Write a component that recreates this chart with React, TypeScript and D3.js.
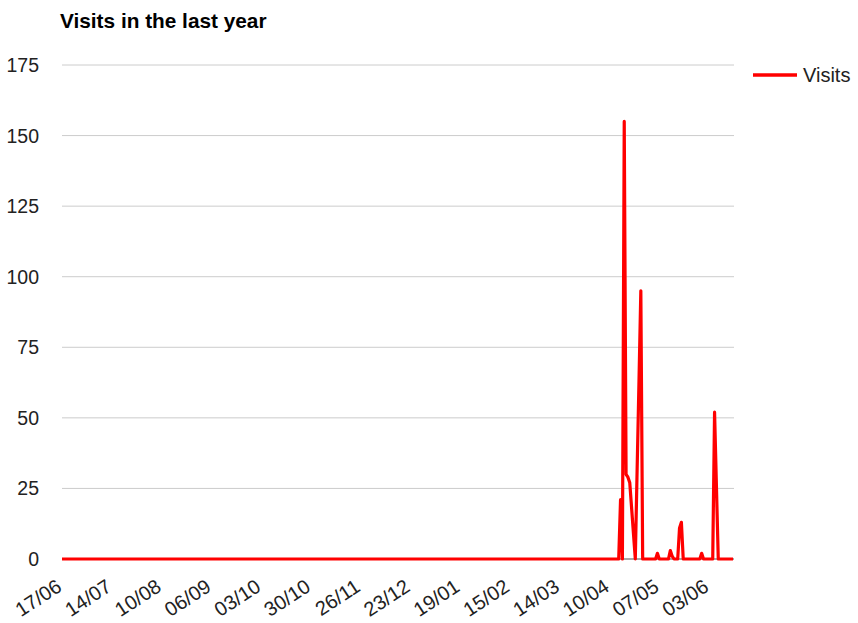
import React from "react";
import * as d3 from "d3";

// Daily visits over one year; only the days with traffic are listed, every other day had 0.
const firstDay = new Date(2012, 5, 17);
const dayCount = 365;

const activeDays = [
  "2013-04-16", "2013-04-18", "2013-04-19", "2013-04-20", "2013-04-21", "2013-04-22",
  "2013-04-23", "2013-04-25", "2013-04-26", "2013-04-27", "2013-05-06", "2013-05-13",
  "2013-05-14", "2013-05-18", "2013-05-19", "2013-05-30", "2013-06-06", "2013-06-07",
];
const activeVisits = [21, 155, 30, 29, 27, 18, 9, 32, 63, 95, 2, 3, 1, 11, 13, 2, 52, 26];

const yTicks = [0, 25, 50, 75, 100, 125, 150, 175];
const xTickLabels = [
  "17/06", "14/07", "10/08", "06/09", "03/10", "30/10", "26/11",
  "23/12", "19/01", "15/02", "14/03", "10/04", "07/05", "03/06",
];
const xTickStepDays = 27;

const seriesName = "Visits";
const title = "Visits in the last year";

const W = 858;
const H = 623;
const margin = { left: 62, right: 124, top: 65, bottom: 64 };
const FONT = "Arial, 'Liberation Sans', sans-serif";

type Point = { date: Date; value: number };

function buildSeries(): Point[] {
  const parse = d3.timeParse("%Y-%m-%d");
  const key = d3.timeFormat("%Y-%m-%d");
  const lookup = new Map<string, number>();
  activeDays.forEach((d, i) => lookup.set(key(parse(d)!), activeVisits[i]));
  const days = d3.timeDay.range(firstDay, d3.timeDay.offset(firstDay, dayCount));
  return days.map((date) => ({ date, value: lookup.get(key(date)) ?? 0 }));
}

export default function App() {
  const data = buildSeries();
  const x = d3
    .scaleTime()
    .domain([data[0].date, data[data.length - 1].date])
    .range([margin.left, W - margin.right - 1]);
  const y = d3.scaleLinear().domain([0, 175]).range([H - margin.bottom, margin.top]);

  const line = d3
    .line<Point>()
    .x((d) => x(d.date))
    .y((d) => y(d.value));

  const tickDates = xTickLabels.map((_, i) => d3.timeDay.offset(firstDay, i * xTickStepDays));

  const x0 = margin.left;
  const x1 = W - margin.right;

  return (
    <svg
      width={W}
      height={H}
      style={{ position: "absolute", left: 0, top: 0, background: "#fff" }}
      fontFamily={FONT}
    >
      <text x={60} y={28} fontSize={20.8} fontWeight="bold" fill="#000">
        {title}
      </text>

      {yTicks.map((t) => (
        <g key={t}>
          {t !== 0 && (
            <line x1={x0} x2={x1} y1={y(t)} y2={y(t)} stroke="#cccccc" strokeWidth={1} />
          )}
          <text x={39} y={y(t)} dy="0.36em" textAnchor="end" fontSize={19.5} fill="#222">
            {t}
          </text>
        </g>
      ))}

      <line x1={x0} x2={x1} y1={y(0)} y2={y(0)} stroke="#555" strokeWidth={1} />

      {tickDates.map((d, i) => (
        <text
          key={xTickLabels[i]}
          transform={`translate(${x(d) + 1},${590}) rotate(-33)`}
          textAnchor="end"
          fontSize={20}
          fill="#222"
        >
          {xTickLabels[i]}
        </text>
      ))}

      <path
        d={line(data) ?? ""}
        fill="none"
        stroke="#ff0000"
        strokeWidth={3.2}
        strokeLinejoin="round"
      />

      <line x1={753} x2={797} y1={75} y2={75} stroke="#ff0000" strokeWidth={3.5} />
      <text x={803} y={75} dy="0.36em" fontSize={20} fill="#222">
        {seriesName}
      </text>
    </svg>
  );
}
